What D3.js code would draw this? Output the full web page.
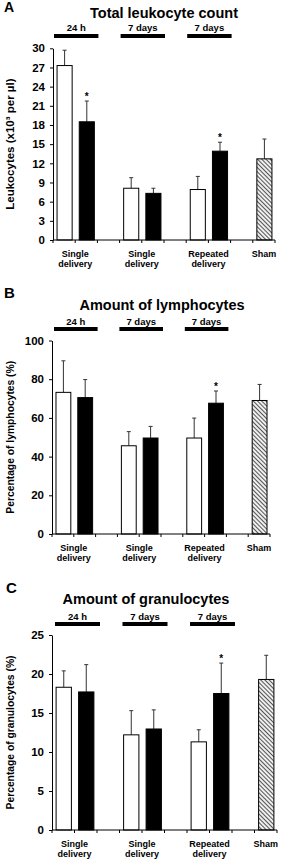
<!DOCTYPE html>
<html><head><meta charset="utf-8">
<script src="https://cdn.jsdelivr.net/npm/d3@7"></script>
<style>
body{margin:0;background:#fff}
svg{display:block;font-family:"Liberation Sans",Arial,sans-serif;font-weight:bold}
</style>
</head><body>
<svg id="chart" width="285" height="866"></svg>
<script>
// ---- data ----
const groupLabels = [["Single","delivery"],["Single","delivery"],["Repeated","delivery"],["Sham"]];
const periodLabels = ["24 h","7 days","7 days"];

const leukoTicks = [0,3,6,9,12,15,18,21,24,27,30];
const leukoWhite = [27.3, 8.1, 7.9];
const leukoWhiteSD = [2.4, 1.65, 2.05];
const leukoBlack = [18.5, 7.3, 13.9];
const leukoBlackSD = [3.25, 0.8, 1.4];
const leukoSham = [12.7];
const leukoShamSD = [3.1];
const leukoSig = [true, false, true];

const lymphoTicks = [0,20,40,60,80,100];
const lymphoWhite = [73.2, 45.6, 49.6];
const lymphoWhiteSD = [16.3, 7.3, 10.3];
const lymphoBlack = [70.5, 49.6, 67.6];
const lymphoBlackSD = [9.3, 6.0, 6.3];
const lymphoSham = [69.0];
const lymphoShamSD = [8.3];
const lymphoSig = [false, false, true];

const granuloTicks = [0,5,10,15,20,25];
const granuloWhite = [18.3, 12.2, 11.3];
const granuloWhiteSD = [2.1, 3.1, 1.55];
const granuloBlack = [17.7, 12.95, 17.5];
const granuloBlackSD = [3.5, 2.45, 3.9];
const granuloSham = [19.3];
const granuloShamSD = [3.1];
const granuloSig = [false, false, true];

const panelTitles = ["Total leukocyte count","Amount of lymphocytes","Amount of granulocytes"];
const panelLetters = ["A","B","C"];
const axisTitles = ["Leukocytes (x10\u00b3 per \u00b5l)","Percentage of lymphocytes (%)","Percentage of granulocytes (%)"];

// ---- layout ----
const layouts = [
  {x0:53, x1:275, yTop:48.3, yZero:240, titleX:164, titleY:18, letterY:12, letterX:4, letterSize:14, periodTextY:31, periodBarY:36, periodDx:1, axisTitleSize:11.5},
  {x0:52, x1:270, yTop:340.5, yZero:534, titleX:162, titleY:310, letterY:298, letterX:4, letterSize:15, periodTextY:325, periodBarY:329, periodDx:2, axisTitleSize:10.3},
  {x0:52, x1:277, yTop:635, yZero:830, titleX:146, titleY:604, letterY:593, letterX:6, letterSize:15, periodTextY:620, periodBarY:624, periodDx:3, axisTitleSize:10.3}
];

const panelData = [
  {ticks:leukoTicks, white:leukoWhite, whiteSD:leukoWhiteSD, black:leukoBlack, blackSD:leukoBlackSD, sham:leukoSham, shamSD:leukoShamSD, sig:leukoSig},
  {ticks:lymphoTicks, white:lymphoWhite, whiteSD:lymphoWhiteSD, black:lymphoBlack, blackSD:lymphoBlackSD, sham:lymphoSham, shamSD:lymphoShamSD, sig:lymphoSig},
  {ticks:granuloTicks, white:granuloWhite, whiteSD:granuloWhiteSD, black:granuloBlack, blackSD:granuloBlackSD, sham:granuloSham, shamSD:granuloShamSD, sig:granuloSig}
];

const svg = d3.select("#chart");
const defs = svg.append("defs");
const pat = defs.append("pattern").attr("id","hatch").attr("patternUnits","userSpaceOnUse")
  .attr("width",3).attr("height",3).attr("patternTransform","rotate(-45)");
pat.append("rect").attr("width",3).attr("height",3).attr("fill","#eee");
pat.append("line").attr("x1",0).attr("y1",0).attr("x2",0).attr("y2",3).attr("stroke","#444").attr("stroke-width",1.8);

panelData.forEach((d, pi) => {
  const L = layouts[pi];
  const g = svg.append("g");
  const nSlots = 10;
  const x = d3.scaleBand().domain(d3.range(nSlots)).range([L.x0, L.x1]).paddingInner(0.32).paddingOuter(0.16);
  const step = x.step();
  const boundary = i => L.x0 + i * step;
  const yMax = d.ticks[d.ticks.length - 1];
  const y = d3.scaleLinear().domain([0, yMax]).range([L.yZero, L.yTop]);

  const bars = [];
  d.white.forEach((v, i) => bars.push({slot: 3*i, v, sd: d.whiteSD[i], type: "white", sig: false}));
  d.black.forEach((v, i) => bars.push({slot: 3*i+1, v, sd: d.blackSD[i], type: "black", sig: d.sig[i]}));
  d.sham.forEach((v, i) => bars.push({slot: 9, v, sd: d.shamSD[i], type: "sham", sig: false}));

  // error bars
  bars.forEach(b => {
    const cx = x(b.slot) + x.bandwidth() / 2 + 0.5;
    g.append("line").attr("x1", cx).attr("x2", cx).attr("y1", y(b.v)).attr("y2", y(b.v + b.sd))
      .attr("stroke", "#333").attr("stroke-width", 1);
    g.append("line").attr("x1", cx - 2).attr("x2", cx + 2).attr("y1", y(b.v + b.sd)).attr("y2", y(b.v + b.sd))
      .attr("stroke", "#333").attr("stroke-width", 1);
    if (b.sig) {
      g.append("text").attr("x", cx).attr("y", y(b.v + b.sd) - 1).attr("text-anchor", "middle")
        .attr("font-size", 10).attr("fill", "#000").text("*");
    }
  });

  g.selectAll("rect.bar").data(bars).enter().append("rect").attr("class", "bar")
    .attr("x", b => x(b.slot) + 0.5).attr("width", x.bandwidth())
    .attr("y", b => y(b.v)).attr("height", b => L.yZero - y(b.v))
    .attr("fill", b => b.type === "white" ? "#fff" : b.type === "black" ? "#000" : "url(#hatch)")
    .attr("stroke", "#000").attr("stroke-width", 1);

  // y axis
  const yAxis = d3.axisLeft(y).tickValues(d.ticks).tickSize(3).tickPadding(5).tickSizeOuter(0);
  const ya = g.append("g").attr("transform", `translate(${L.x0},0)`).call(yAxis);
  ya.select(".domain").attr("stroke", "#000");
  ya.selectAll("text").attr("font-size", 11.5).attr("font-weight", "bold").attr("font-family", "Liberation Sans, Arial, sans-serif").attr("fill", "#000");

  // x axis
  g.append("line").attr("x1", L.x0).attr("x2", L.x1).attr("y1", L.yZero).attr("y2", L.yZero).attr("stroke", "#000");
  d3.range(nSlots + 1).forEach(i => {
    g.append("line").attr("x1", boundary(i)).attr("x2", boundary(i)).attr("y1", L.yZero).attr("y2", L.yZero + 3).attr("stroke", "#000");
  });

  // category labels
  const labelPos = [boundary(1), boundary(4), boundary(7), x(9) + x.bandwidth() / 2];
  groupLabels.forEach((lines, i) => {
    lines.forEach((t, j) => {
      g.append("text").attr("x", labelPos[i]).attr("y", L.yZero + 17 + j * 10)
        .attr("text-anchor", "middle").attr("font-size", 9).text(t);
    });
  });

  // period bars
  periodLabels.forEach((t, i) => {
    const xa = boundary(3*i) + L.periodDx, xb = boundary(3*i + 2) + L.periodDx;
    g.append("rect").attr("x", xa).attr("width", xb - xa).attr("y", L.periodBarY - 2).attr("height", 4).attr("fill", "#000");
    g.append("text").attr("x", (xa + xb) / 2).attr("y", L.periodTextY).attr("text-anchor", "middle")
      .attr("font-size", 9.5).text(t);
  });

  // title
  g.append("text").attr("x", L.titleX).attr("y", L.titleY).attr("text-anchor", "middle").attr("font-size", 14.5).text(panelTitles[pi]);
  g.append("text").attr("x", L.letterX).attr("y", L.letterY).attr("font-size", L.letterSize).text(panelLetters[pi]);

  // axis title
  const cy = (L.yTop + L.yZero) / 2;
  g.append("text").attr("transform", `translate(14,${cy}) rotate(-90)`).attr("text-anchor", "middle")
    .attr("font-size", L.axisTitleSize).text(axisTitles[pi]);
});
</script>
</body></html>
